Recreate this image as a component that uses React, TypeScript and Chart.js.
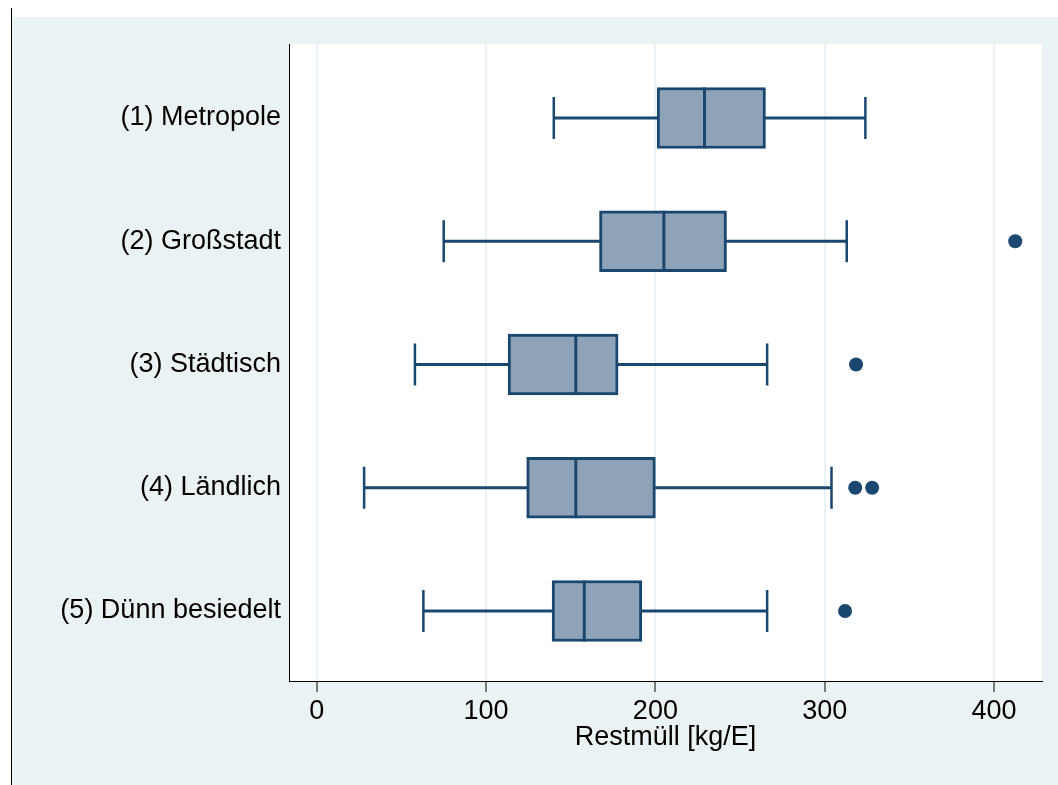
import React, { useEffect, useRef } from 'react';
import { Chart, registerables } from 'chart.js';

Chart.register(...registerables);

const categories = ['(1) Metropole', '(2) Großstadt', '(3) Städtisch', '(4) Ländlich', '(5) Dünn besiedelt'];
const whiskerLow = [140, 75, 58, 28, 63];
const q1 = [201, 167, 113, 124, 139];
const median = [229, 205, 153, 153, 158];
const q3 = [265, 242, 178, 200, 192];
const whiskerHigh = [324, 313, 266, 304, 266];
const outlierCategory = [2, 3, 4, 4, 5];
const outlierValue = [412.5, 318.5, 318, 328, 312];
const xTicks = [0, 100, 200, 300, 400];
const xTitle = 'Restmüll [kg/E]';

const NAVY = '#1A476F';
const BOXFILL = 'rgb(142,163,183)';
const BG = '#EAF2F3';
const FONT = "'Liberation Sans', Arial, Helvetica, sans-serif";

const plotBg = {
  id: 'plotBg',
  beforeDraw(chart: any) {
    const { ctx, chartArea } = chart;
    ctx.save();
    ctx.fillStyle = '#ffffff';
    ctx.fillRect(chartArea.left, chartArea.top, chartArea.right - chartArea.left, chartArea.bottom - chartArea.top);
    ctx.restore();
  },
};

const zeroPad = (s: any) => {
  s.paddingTop = 0;
  s.paddingBottom = 0;
  s.paddingLeft = 0;
  s.paddingRight = 0;
};

export default function App() {
  const ref = useRef<HTMLCanvasElement | null>(null);

  useEffect(() => {
    document.body.style.margin = '0';
    if (!ref.current) return;
    const pos = (i: number) => i + 1;
    const chart = new Chart(ref.current, {
      type: 'bar',
      data: {
        datasets: [
          {
            type: 'scatter',
            data: outlierValue.map((v, i) => ({ x: v, y: outlierCategory[i] })),
            pointStyle: 'circle',
            pointRadius: 7,
            pointBackgroundColor: NAVY,
            pointBorderWidth: 0,
            order: 0,
          } as any,
          {
            type: 'scatter',
            data: median.map((v, i) => ({ x: v, y: pos(i) })),
            pointStyle: 'line',
            rotation: 90,
            pointRadius: 30.5,
            pointBorderColor: NAVY,
            pointBorderWidth: 3,
            order: 1,
          } as any,
          {
            type: 'bar',
            data: categories.map((_, i) => ({ x: [q1[i], q3[i]], y: pos(i) })),
            backgroundColor: BOXFILL,
            borderColor: NAVY,
            borderWidth: 3,
            borderSkipped: false,
            barThickness: 61,
            grouped: false,
            order: 2,
          } as any,
          {
            type: 'scatter',
            data: [
              ...whiskerLow.map((v, i) => ({ x: v, y: pos(i) })),
              ...whiskerHigh.map((v, i) => ({ x: v, y: pos(i) })),
            ],
            pointStyle: 'line',
            rotation: 90,
            pointRadius: 21,
            pointBorderColor: NAVY,
            pointBorderWidth: 2.5,
            order: 3,
          } as any,
          {
            type: 'bar',
            data: categories.map((_, i) => ({ x: [whiskerLow[i], q1[i]], y: pos(i) })),
            backgroundColor: NAVY,
            borderWidth: 0,
            barThickness: 2.5,
            grouped: false,
            order: 4,
          } as any,
          {
            type: 'bar',
            data: categories.map((_, i) => ({ x: [q3[i], whiskerHigh[i]], y: pos(i) })),
            backgroundColor: NAVY,
            borderWidth: 0,
            barThickness: 2.5,
            grouped: false,
            order: 4,
          } as any,
        ],
      },
      options: {
        indexAxis: 'y',
        responsive: false,
        animation: false,
        events: [],
        layout: { autoPadding: false, padding: { top: 27, right: 16, left: 0, bottom: 0 } },
        plugins: { legend: { display: false }, tooltip: { enabled: false } },
        scales: {
          x: {
            type: 'linear',
            position: 'bottom',
            offset: false,
            min: -16.36,
            max: 428.3,
            afterBuildTicks: (s: any) => {
              s.ticks = xTicks.map((v) => ({ value: v }));
            },
            afterFit: (s: any) => {
              s.height = 104;
              zeroPad(s);
            },
            grid: {
              display: true,
              color: BG,
              lineWidth: 2,
              drawTicks: true,
              tickLength: 11,
              tickColor: '#000',
              tickWidth: 1,
              offset: false,
            },
            border: { display: true, color: '#000', width: 1 },
            ticks: {
              font: { family: FONT, size: 27 },
              color: '#000',
              padding: 3,
              maxRotation: 0,
              autoSkip: false,
            },
            title: {
              display: true,
              text: xTitle,
              color: '#000',
              font: { family: FONT, size: 27 },
              padding: { top: 0, bottom: 31 },
            },
          },
          y: {
            type: 'linear',
            reverse: true,
            offset: false,
            min: 0.4,
            max: 5.568,
            afterBuildTicks: (s: any) => {
              s.ticks = categories.map((_, i) => ({ value: pos(i) }));
            },
            afterFit: (s: any) => {
              s.width = 277;
              zeroPad(s);
            },
            grid: { display: false, drawTicks: false, tickLength: 0, offset: false },
            border: { display: true, color: '#000', width: 1 },
            ticks: {
              font: { family: FONT, size: 27 },
              color: '#000',
              padding: 8,
              autoSkip: false,
              callback: (v: any) => categories[Math.round(Number(v)) - 1] ?? '',
            },
          },
        },
      } as any,
      plugins: [plotBg],
    });
    return () => chart.destroy();
  }, []);

  return (
    <div style={{ position: 'relative', width: 1058, height: 785, background: '#fff', overflow: 'hidden' }}>
      <div style={{ position: 'absolute', left: 11, top: 8, width: 1, height: 777, background: '#000' }} />
      <div style={{ position: 'absolute', left: 12, top: 17, width: 1046, height: 768, background: BG }}>
        <canvas ref={ref} width={1046} height={768} style={{ display: 'block' }} />
      </div>
    </div>
  );
}
